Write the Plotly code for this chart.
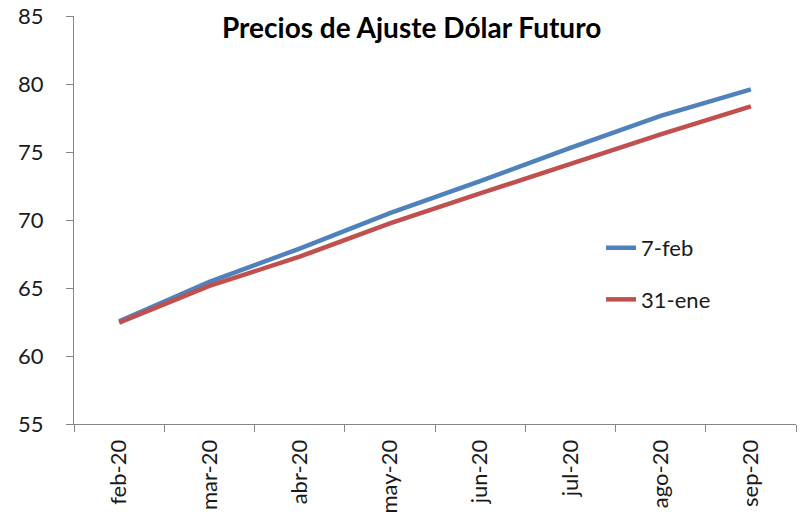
import plotly.graph_objects as go

categories = ["feb-20", "mar-20", "abr-20", "may-20", "jun-20", "jul-20", "ago-20", "sep-20"]
series_7feb = [62.55, 65.45, 67.9, 70.5, 72.85, 75.3, 77.65, 79.6]
series_31ene = [62.45, 65.15, 67.3, 69.75, 71.95, 74.15, 76.3, 78.35]
y_ticks = [55, 60, 65, 70, 75, 80, 85]

FONT = "Lato, 'Open Sans', sans-serif"
AXIS_COLOR = "#868686"
TEXT_COLOR = "#1a1a1a"

fig = go.Figure()
fig.add_trace(go.Scatter(x=categories, y=series_7feb, mode="lines", name="7-feb",
                         legendgroup="a", line=dict(color="#4F81BD", width=4.5)))
fig.add_trace(go.Scatter(x=categories, y=series_31ene, mode="lines", name="31-ene",
                         legendgroup="b", line=dict(color="#C0504D", width=4.5)))

fig.update_layout(
    width=804, height=515,
    margin=dict(l=74, r=8, t=16, b=91),
    paper_bgcolor="white", plot_bgcolor="white",
    font=dict(family=FONT, size=22, color=TEXT_COLOR),
    title=dict(text="<b>Precios de Ajuste Dólar Futuro</b>", x=0.512, xanchor="center",
               y=0.946, yanchor="middle", font=dict(family=FONT, size=28, color="black")),
    showlegend=True,
    legend=dict(x=0.730, y=0.483, xanchor="left", yanchor="top",
                bgcolor="rgba(0,0,0,0)", font=dict(size=22, family=FONT, color=TEXT_COLOR),
                tracegroupgap=20, traceorder="grouped"),
    xaxis=dict(type="category", range=[-0.5, 7.5], tickson="boundaries",
               ticks="outside", ticklen=7, tickcolor=AXIS_COLOR,
               showline=True, linecolor=AXIS_COLOR, linewidth=1, automargin=False,
               showgrid=False, tickangle=-90, zeroline=False, ticklabelstandoff=6,
               tickfont=dict(size=22, family=FONT, color=TEXT_COLOR)),
    yaxis=dict(range=[55, 85], tickvals=y_ticks, ticks="outside", ticklen=7,
               tickcolor=AXIS_COLOR, showline=True, linecolor=AXIS_COLOR, linewidth=1,
               showgrid=False, zeroline=False, ticklabelstandoff=18, automargin=False,
               ticklabeloverflow="allow",
               tickfont=dict(size=22, family=FONT, color=TEXT_COLOR)),
)

# remove the browser's default 8px body margin so the figure fills the window exactly
fig.write_html("out.html", config={"displayModeBar": False},
               post_script="document.body.style.margin='0';")
